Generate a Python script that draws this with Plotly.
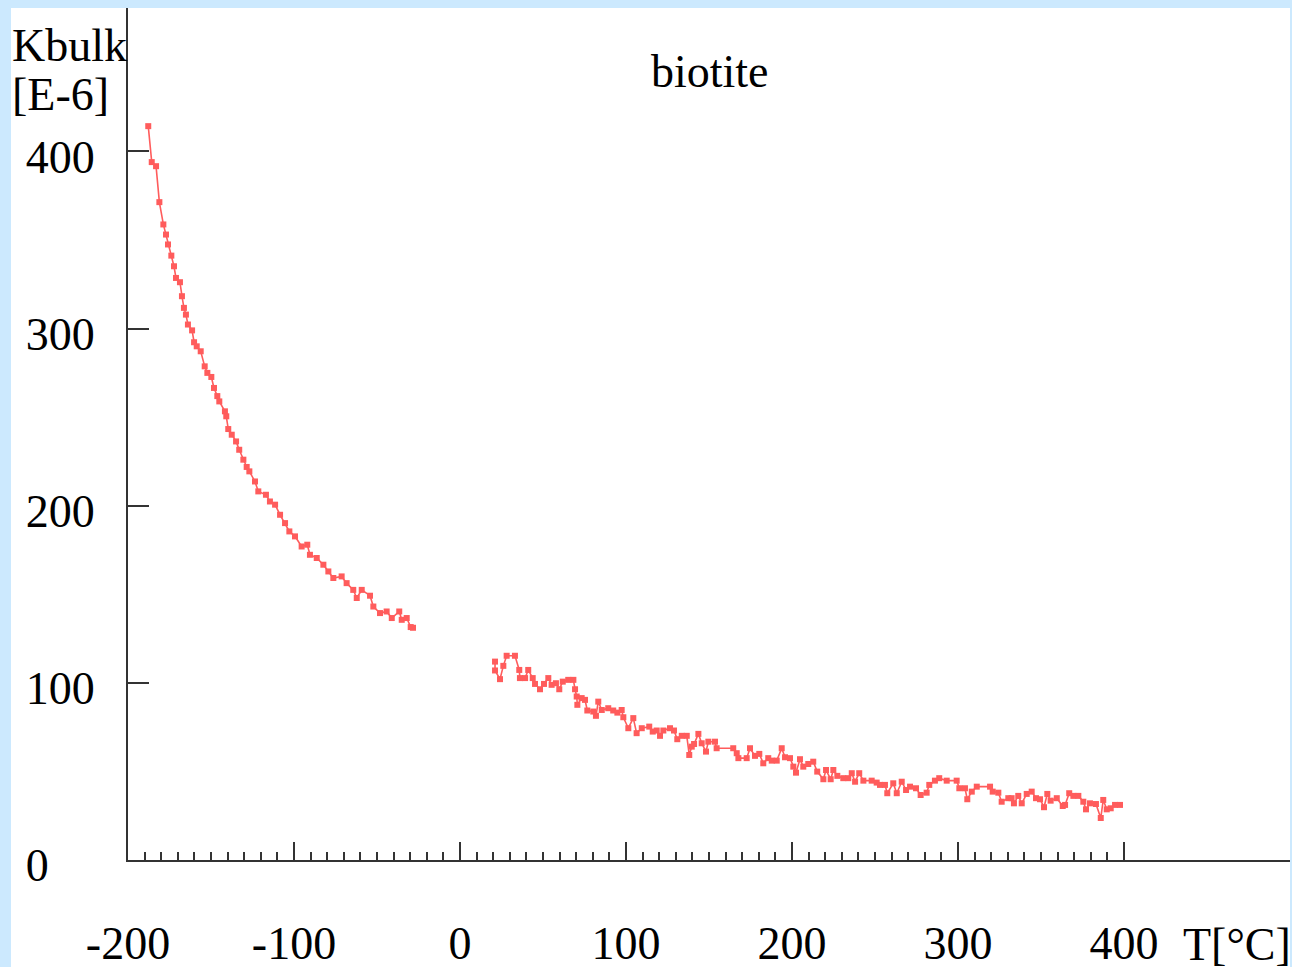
import plotly.graph_objects as go

# Segment 1 (cooling from liquid nitrogen temperature)
t_low = [-187.8, -185.7, -183.1, -181.1, -178.7, -177.1, -175.9, -173.9, -172.3, -171.1,
         -168.7, -167.5, -166.3, -165.1, -163.9, -161.4, -160.2, -158.6, -156.2, -153.8,
         -152.2, -149.8, -148.2, -146.2, -145.0, -141.6, -140.8, -139.6, -137.5, -134.9,
         -133.0, -130.5, -128.5, -126.9, -123.5, -121.5, -116.9, -114.5, -111.4, -108.4,
         -105.4, -102.8, -99.4, -95.4, -92.0, -90.4, -86.3, -82.3, -79.3, -76.3,
         -71.3, -68.3, -64.3, -62.2, -59.2, -54.2, -52.2, -48.2, -44.2, -41.1,
         -36.6, -35.1, -32.1, -29.7, -28.3]
k_low = [414.3, 394.0, 391.7, 371.4, 358.8, 353.1, 347.5, 341.2, 335.2, 328.6,
         326.2, 318.3, 311.7, 307.9, 302.3, 299.0, 292.3, 290.0, 287.2, 278.7,
         275.0, 272.7, 266.5, 261.9, 258.9, 253.3, 250.5, 243.3, 240.1, 236.3,
         231.6, 226.0, 221.9, 219.4, 213.7, 208.1, 206.2, 202.4, 200.6, 194.9,
         190.2, 185.5, 182.7, 177.0, 178.0, 172.3, 170.5, 166.7, 162.9, 159.2,
         160.1, 156.3, 152.5, 147.9, 152.5, 149.2, 143.1, 139.4, 140.3, 136.6,
         140.3, 135.6, 136.6, 131.5, 131.1]

# Segment 2 (heating from room temperature)
t_high = [21.1, 21.1, 24.1, 26.1, 28.1, 33.1, 35.7, 36.1, 39.2, 41.1,
          43.8, 45.2, 48.2, 50.6, 53.2, 55.2, 57.8, 59.8, 61.9, 65.2,
          68.3, 69.3, 70.3, 70.7, 73.3, 75.3, 76.7, 80.3, 81.9, 83.3,
          85.4, 89.3, 92.3, 94.8, 97.4, 98.4, 101.4, 104.4, 106.4, 109.5,
          114.0, 116.1, 118.5, 120.5, 122.5, 126.5, 128.9, 130.9, 133.6, 136.6,
          138.1, 139.6, 141.0, 143.6, 145.6, 148.2, 149.6, 153.6, 154.6, 164.6,
          166.7, 167.7, 172.7, 174.7, 177.7, 180.3, 182.7, 185.7, 187.8, 190.8,
          193.8, 195.8, 198.8, 200.8, 202.4, 204.8, 206.8, 209.8, 212.8, 215.2,
          218.9, 220.5, 223.3, 224.9, 227.3, 230.9, 233.9, 236.0, 238.0, 240.5,
          243.0, 248.0, 251.0, 253.0, 256.0, 257.4, 261.0, 263.1, 266.1, 268.7,
          271.1, 274.7, 277.5, 281.1, 282.7, 286.1, 288.7, 293.2, 299.2, 300.8,
          304.2, 305.6, 308.3, 311.3, 319.3, 320.9, 324.3, 326.3, 330.3, 332.3,
          333.7, 336.3, 338.4, 341.4, 344.4, 347.0, 349.4, 351.8, 353.8, 355.8,
          359.5, 363.1, 364.5, 367.0, 369.5, 372.5, 375.5, 377.1, 379.5, 383.1,
          386.0, 387.5, 389.6, 392.0, 394.6, 397.6]
k_high = [112.0, 107.0, 102.1, 109.6, 115.3, 115.3, 107.3, 102.7, 102.7, 107.3,
          102.7, 99.4, 96.4, 99.4, 102.7, 98.9, 99.8, 96.4, 100.7, 101.7,
          101.7, 96.4, 92.3, 87.6, 91.4, 90.4, 84.4, 83.8, 81.4, 89.4,
          84.7, 85.7, 84.4, 83.2, 84.7, 80.6, 74.4, 80.1, 71.6, 74.4,
          75.3, 72.5, 73.1, 70.1, 73.1, 74.4, 73.1, 68.2, 70.1, 70.1,
          59.3, 64.0, 65.5, 71.2, 65.9, 61.2, 66.8, 66.8, 63.1, 63.1,
          60.3, 57.5, 57.5, 63.1, 58.8, 59.9, 54.6, 57.5, 56.1, 56.1,
          63.1, 58.0, 57.5, 52.7, 49.3, 56.9, 52.7, 54.2, 55.5, 49.9,
          45.6, 50.8, 45.6, 50.8, 47.5, 46.2, 46.2, 49.0, 44.2, 49.0,
          44.8, 44.8, 43.7, 42.4, 42.4, 37.7, 43.3, 37.7, 44.2, 39.5,
          41.4, 40.5, 36.7, 38.0, 42.4, 44.8, 46.2, 44.8, 44.8, 40.5,
          40.5, 34.3, 38.6, 41.4, 41.4, 38.6, 38.0, 32.9, 34.9, 34.9,
          32.0, 36.2, 32.0, 37.3, 38.6, 34.9, 34.3, 29.8, 37.3, 33.5,
          34.9, 30.5, 31.1, 37.7, 36.2, 36.2, 32.9, 28.6, 32.0, 31.6,
          23.7, 33.9, 28.6, 29.2, 31.1, 31.1]

x_tickvals = [-200, -100, 0, 100, 200, 300, 400]
x_ticktext = ["-200", "-100", "0", "100", "200", "300", "400"]
y_tickvals = [0, 100, 200, 300, 400]
y_ticktext = ["0\u00a0\u00a0\u00a0\u00a0", "100", "200", "300", "400"]
x_minor = [v for v in range(-190, 400, 10) if v % 100 != 0]

RED = "#ff5c5c"
FONT = "Liberation Serif"
AXC = "#333333"
BLUE = "#cce9fe"

fig = go.Figure()
for xs, ys in [(t_low, k_low), (t_high, k_high)]:
    fig.add_trace(go.Scatter(
        x=xs, y=ys, mode="lines+markers",
        line=dict(color=RED, width=1.6),
        marker=dict(symbol="square", size=6, color=RED),
        showlegend=False, hoverinfo="x+y",
    ))

W, H = 1292, 967
L, R, T, B = 128, 2, 8, 107
pw, ph = W - L - R, H - T - B

def px(xp):
    return (xp - L) / pw

def py(yp):
    return (H - B - yp) / ph

fig.add_shape(type="rect", xref="paper", yref="paper",
              x0=px(11), x1=px(1290), y0=py(990), y1=py(8),
              fillcolor="white", line=dict(width=0), layer="below")

fig.update_layout(
    width=W, height=H,
    margin=dict(l=L, r=R, t=T, b=B, pad=0, autoexpand=False),
    paper_bgcolor=BLUE,
    plot_bgcolor="white",
    font=dict(family=FONT, size=46, color="black"),
    xaxis=dict(
        range=[-200, 500], showgrid=False, zeroline=False, automargin=False,
        showline=True, linecolor=AXC, linewidth=2,
        tickmode="array", tickvals=x_tickvals, ticktext=x_ticktext,
        ticks="inside", ticklen=18, tickwidth=2, tickcolor=AXC,
        ticklabelstandoff=42,
        tickfont=dict(family=FONT, size=46, color="black"),
        minor=dict(tickmode="array", tickvals=x_minor, ticks="inside",
                   ticklen=8, tickwidth=1.5, tickcolor=AXC, showgrid=False),
    ),
    yaxis=dict(
        range=[0, 481], showgrid=False, zeroline=False, automargin=False,
        showline=True, linecolor=AXC, linewidth=2,
        tickmode="array", tickvals=y_tickvals, ticktext=y_ticktext,
        ticks="inside", ticklen=21, tickwidth=2, tickcolor=AXC,
        ticklabelstandoff=22, ticklabelshift=5,
        tickfont=dict(family=FONT, size=46, color="black"),
    ),
    annotations=[
        dict(text="Kbulk", xref="paper", yref="paper", x=px(10), y=py(45),
             xanchor="left", yanchor="middle", showarrow=False,
             font=dict(family=FONT, size=46, color="black")),
        dict(text="[E-6]", xref="paper", yref="paper", x=px(10), y=py(95),
             xanchor="left", yanchor="middle", showarrow=False,
             font=dict(family=FONT, size=46, color="black")),
        dict(text="biotite", xref="paper", yref="paper", x=px(710), y=py(72),
             xanchor="center", yanchor="middle", showarrow=False,
             font=dict(family=FONT, size=46, color="black")),
        dict(text="T[°C]", xref="paper", yref="paper", x=px(1181), y=py(944),
             xanchor="left", yanchor="middle", showarrow=False,
             font=dict(family=FONT, size=46, color="black")),
    ],
)

fig.write_html(
    "out.html",
    config={"displayModeBar": False},
    post_script=(
        "var gd=document.getElementById('{plot_id}');"
        "gd.style.position='fixed';gd.style.top='0px';gd.style.left='0px';"
        "document.body.style.margin='0';"
        "document.body.style.overflow='hidden';"
        "document.documentElement.style.overflow='hidden';"
        "document.body.style.background='" + BLUE + "';"
    ),
)
